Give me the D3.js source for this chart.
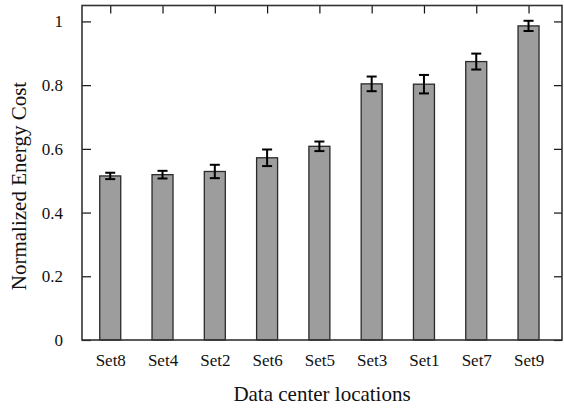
<!DOCTYPE html>
<html>
<head>
<meta charset="utf-8">
<script src="https://cdn.jsdelivr.net/npm/d3@7"></script>
<style>
  html, body { margin: 0; padding: 0; background: #fff; }
  svg { display: block; }
  svg text { font-family: "Liberation Serif", "Times New Roman", Times, serif !important; fill: #111; }
</style>
</head>
<body>
<svg id="chart" width="564" height="410"></svg>
<script>
// Normalized energy cost per data center location set
const categories = ["Set8", "Set4", "Set2", "Set6", "Set5", "Set3", "Set1", "Set7", "Set9"];
const costs      = [0.515, 0.519, 0.529, 0.572, 0.608, 0.804, 0.803, 0.874, 0.986];
const errors     = [0.010, 0.012, 0.021, 0.026, 0.015, 0.023, 0.029, 0.025, 0.016];
const yTicks     = [0, 0.2, 0.4, 0.6, 0.8, 1];
const yTickLabels = ["0", "0.2", "0.4", "0.6", "0.8", "1"];

const serif = '"Liberation Serif", "Times New Roman", Times, serif';
const svg = d3.select("#chart");
const frame = { left: 82, right: 562, top: 5.5, bottom: 340 };

const x = d3.scaleLinear().domain([-0.54, categories.length - 1 + 0.64]).range([frame.left, frame.right]);
const y = d3.scaleLinear().domain([0, 1.05]).range([frame.bottom, frame.top]);
const barW = 21;

// Bars
svg.append("g").selectAll("rect")
  .data(costs)
  .join("rect")
  .attr("x", (d, i) => x(i) - barW / 2)
  .attr("y", d => y(d))
  .attr("width", barW)
  .attr("height", d => y(0) - y(d))
  .attr("fill", "#9c9d9c")
  .attr("stroke", "#2a2a2a")
  .attr("stroke-width", 1.3);

// Error bars
const eb = svg.append("g").attr("stroke", "#000").attr("stroke-width", 2);
costs.forEach((d, i) => {
  const cx = x(i), lo = y(d - errors[i]), hi = y(d + errors[i]);
  eb.append("line").attr("x1", cx).attr("x2", cx).attr("y1", lo).attr("y2", hi);
  eb.append("line").attr("x1", cx - 5).attr("x2", cx + 5).attr("y1", lo).attr("y2", lo);
  eb.append("line").attr("x1", cx - 5).attr("x2", cx + 5).attr("y1", hi).attr("y2", hi);
});

// Left axis: inward ticks with labels
const yAxis = d3.axisLeft(y).tickValues(yTicks).tickSize(-9).tickPadding(19)
  .tickFormat((d, i) => yTickLabels[i]);
const gy = svg.append("g").attr("transform", `translate(${frame.left},0)`).call(yAxis);
gy.attr("font-family", serif);
gy.select(".domain").remove();
gy.selectAll(".tick line").attr("stroke", "#111").attr("stroke-width", 1.2);
gy.selectAll(".tick text").attr("font-size", 17).style("font-family", serif).attr("fill", "#111");

// Right axis: inward ticks, no labels
const gyr = svg.append("g").attr("transform", `translate(${frame.right},0)`)
  .call(d3.axisRight(y).tickValues(yTicks).tickSize(-8).tickFormat(""));
gyr.select(".domain").remove();
gyr.selectAll(".tick line").attr("stroke", "#111").attr("stroke-width", 1.2);

// Top axis: inward ticks at each category
const gxt = svg.append("g").attr("transform", `translate(0,${frame.top})`)
  .call(d3.axisTop(x).tickValues(d3.range(categories.length)).tickSize(-8).tickFormat(""));
gxt.select(".domain").remove();
gxt.selectAll(".tick line").attr("stroke", "#111").attr("stroke-width", 1.2);

// Bottom axis: category labels
const gxb = svg.append("g").attr("transform", `translate(0,${frame.bottom})`)
  .call(d3.axisBottom(x).tickValues(d3.range(categories.length)).tickSize(0).tickPadding(14)
    .tickFormat(i => categories[i]));
gxb.attr("font-family", serif);
gxb.select(".domain").remove();
gxb.selectAll(".tick text").attr("font-size", 17).style("font-family", serif).attr("fill", "#111");

// Plot frame
svg.append("rect")
  .attr("x", frame.left).attr("y", frame.top)
  .attr("width", frame.right - frame.left).attr("height", frame.bottom - frame.top)
  .attr("fill", "none").attr("stroke", "#333").attr("stroke-width", 1.6);

// Axis titles
svg.append("text")
  .attr("x", (frame.left + frame.right) / 2).attr("y", 401)
  .attr("text-anchor", "middle").attr("font-size", 21)
  .style("font-family", serif)
  .text("Data center locations");

svg.append("text")
  .attr("transform", "translate(26,186) rotate(-90)")
  .attr("text-anchor", "middle").attr("font-size", 21)
  .style("font-family", serif)
  .text("Normalized Energy Cost");
</script>
</body>
</html>
